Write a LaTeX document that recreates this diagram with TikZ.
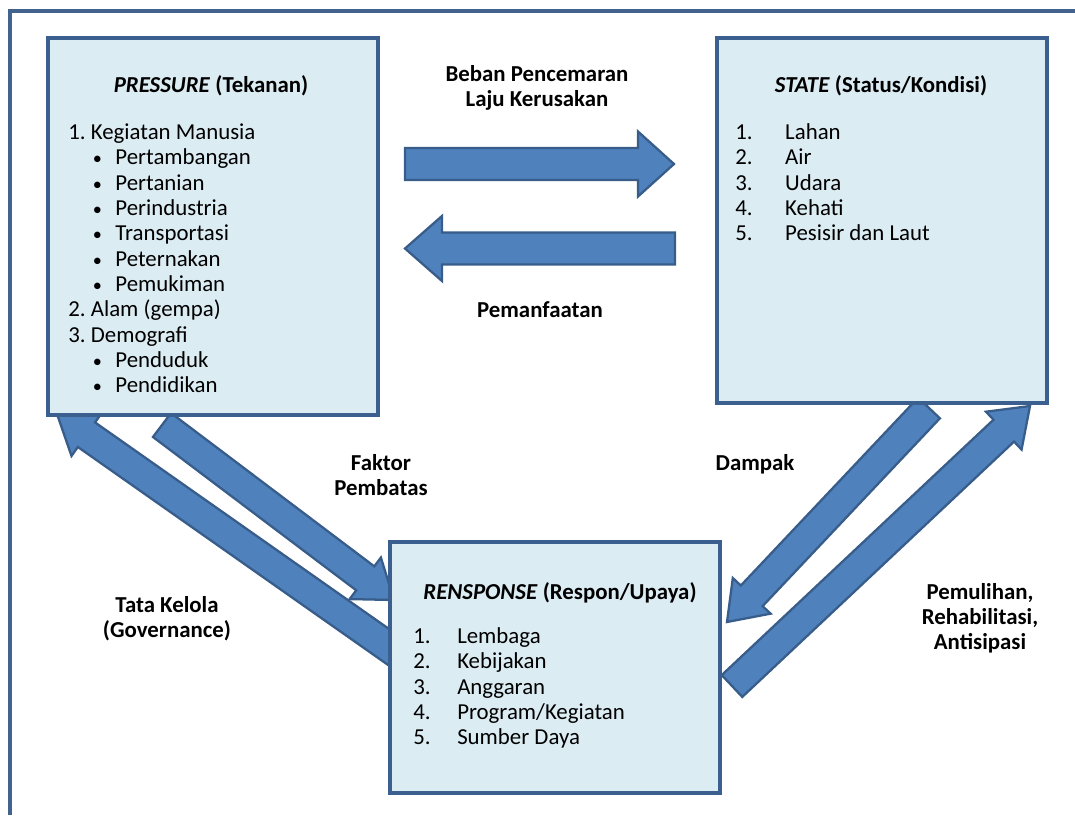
\documentclass[tikz,border=0pt]{standalone}
\usepackage{fontspec}
\setmainfont{Carlito}
\usetikzlibrary{calc}

\definecolor{boxfill}{RGB}{220,236,243}
\definecolor{boxline}{RGB}{59,96,143}
\definecolor{arrowfill}{RGB}{79,129,189}
\definecolor{arrowline}{RGB}{56,93,138}
\definecolor{frameline}{RGB}{66,99,142}

% block arrow from #1 to #2: half shaft #3, half head #4, head length #5
\newcommand{\drawarrow}[5]{%
	\coordinate (hb) at ($(#2)!#5!(#1)$);
	\draw[fatarrow] ($(#1)!#3!90:(#2)$) -- ($(hb)!#3!90:(#2)$) -- ($(hb)!#4!90:(#2)$)
		-- (#2) -- ($(hb)!#4!-90:(#2)$) -- ($(hb)!#3!-90:(#2)$) -- ($(#1)!#3!-90:(#2)$) -- cycle;
}
\newcommand{\bul}{\hspace*{14pt}\makebox[12.8pt][l]{\scalebox{0.8}{\textbullet}}}
\newcommand{\itemno}[2]{\makebox[#1][l]{#2}}

\tikzset{
	panel/.style={draw=boxline, line width=2pt, fill=boxfill, inner sep=0pt, minimum width=6.6cm},
	fatarrow/.style={draw=arrowline, line width=1.3pt, fill=arrowfill, line join=miter},
	txt/.style={inner sep=0pt, anchor=base, font=\fontsize{13}{14.42}\selectfont},
	head/.style={inner sep=0pt, anchor=base, font=\fontsize{13}{14.42}\selectfont\bfseries},
}

\begin{document}
\begin{tikzpicture}[x=0.02cm, y=-0.02cm]

	\useasboundingbox (0,0) rectangle (1075,815);

	% frame
	\draw[frameline, line width=2.3pt] (10,815) -- (10,11) -- (1075,11);

	% arrow ends
	\coordinate (ps-tail) at (405,164);
	\coordinate (ps-tip) at (674,164);
	\coordinate (sp-tail) at (675,248.5);
	\coordinate (sp-tip) at (405,248.5);
	\coordinate (pr-tail) at (162,425);
	\coordinate (pr-tip) at (394,600);
	\coordinate (rp-tail) at (400,655);
	\coordinate (rp-tip) at (57,414);
	\coordinate (sr-tail) at (929,408);
	\coordinate (sr-tip) at (727,622);
	\coordinate (rs-tail) at (732,686);
	\coordinate (rs-tip) at (1030,406);

	\drawarrow{ps-tail}{ps-tip}{0.32cm}{0.65cm}{0.72cm}
	\drawarrow{sp-tail}{sp-tip}{0.32cm}{0.65cm}{0.74cm}
	\drawarrow{pr-tail}{pr-tip}{0.3cm}{0.52cm}{0.72cm}
	\drawarrow{rp-tail}{rp-tip}{0.3cm}{0.52cm}{0.72cm}
	\drawarrow{sr-tail}{sr-tip}{0.3cm}{0.52cm}{0.72cm}
	\drawarrow{rs-tail}{rs-tip}{0.3cm}{0.52cm}{0.72cm}

	% boxes
	\node[panel, minimum height=7.54cm] (pressure) at (213,226.5) {};
	\node[panel, minimum height=7.3cm] (state) at (882,220.5) {};
	\node[panel, minimum height=5.02cm] (response) at (555,667.5) {};

	% pressure
	\node[head] (pr-title) at (211,92) {\textit{PRESSURE} (Tekanan)};
	\node[txt, anchor=base west] (pr-list) at (68,139.5) {\begin{tabular}[t]{@{}l@{}}
		1.~Kegiatan Manusia\\
		\bul Pertambangan\\
		\bul Pertanian\\
		\bul Perindustria\\
		\bul Transportasi\\
		\bul Peternakan\\
		\bul Pemukiman\\
		2.~Alam (gempa)\\
		3.~Demografi\\
		\bul Penduduk\\
		\bul Pendidikan
	\end{tabular}};

	% state
	\node[head] (st-title) at (881,92) {\textit{STATE} (Status/Kondisi)};
	\node[txt, anchor=base west] (st-list) at (735,139.5) {\begin{tabular}[t]{@{}l@{}}
		\itemno{28.4pt}{1.}Lahan\\
		\itemno{28.4pt}{2.}Air\\
		\itemno{28.4pt}{3.}Udara\\
		\itemno{28.4pt}{4.}Kehati\\
		\itemno{28.4pt}{5.}Pesisir dan Laut
	\end{tabular}};

	% response
	\node[head] (re-title) at (560,599) {\textit{RENSPONSE} (Respon/Upaya)};
	\node[txt, anchor=base west] (re-list) at (413,643.5) {\begin{tabular}[t]{@{}l@{}}
		\itemno{25pt}{1.}Lembaga\\
		\itemno{25pt}{2.}Kebijakan\\
		\itemno{25pt}{3.}Anggaran\\
		\itemno{25pt}{4.}Program/Kegiatan\\
		\itemno{25pt}{5.}Sumber Daya
	\end{tabular}};

	% arrow labels
	\node[head] (lb-beban) at (537,81) {\begin{tabular}[t]{@{}c@{}}Beban Pencemaran\\Laju Kerusakan\end{tabular}};
	\node[head] (lb-manfaat) at (540,317) {Pemanfaatan};
	\node[head] (lb-faktor) at (381,470) {\begin{tabular}[t]{@{}c@{}}Faktor\\Pembatas\end{tabular}};
	\node[head] (lb-dampak) at (755,470) {Dampak};
	\node[head] (lb-tata) at (167,612) {\begin{tabular}[t]{@{}c@{}}Tata Kelola\\(Governance)\end{tabular}};
	\node[head] (lb-pulih) at (980,599) {\begin{tabular}[t]{@{}c@{}}Pemulihan,\\Rehabilitasi,\\Antisipasi\end{tabular}};

\end{tikzpicture}
\end{document}
